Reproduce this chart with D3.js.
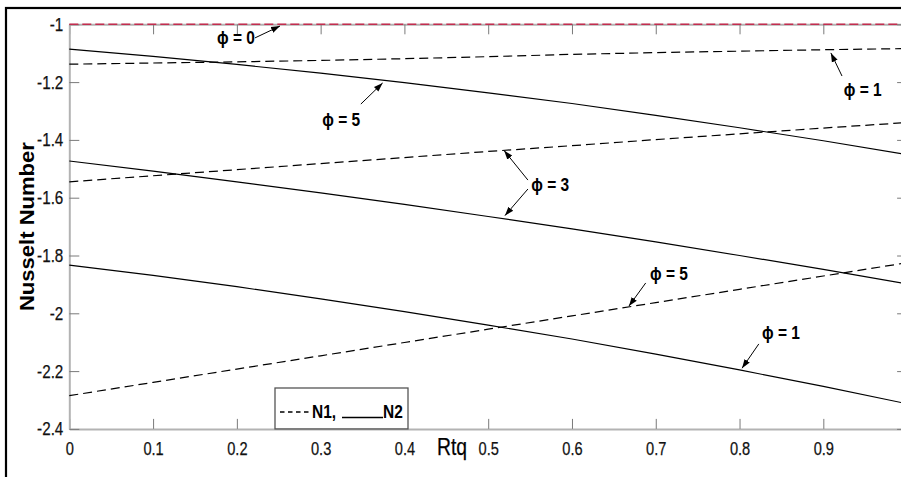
<!DOCTYPE html>
<html>
<head>
<meta charset="utf-8">
<script src="https://cdn.jsdelivr.net/npm/d3@7"></script>
<style>
  html, body { margin: 0; padding: 0; background: #fff; }
  svg { display: block; }
  svg text { font-family: "Liberation Sans", Arial, sans-serif; }
</style>
</head>
<body>
<svg id="chart" width="901" height="477"></svg>
<script>
// Rtq sample points
const rtq = [0, 0.1, 0.2, 0.3, 0.4, 0.5, 0.6, 0.7, 0.8, 0.9, 1.0];

// Nusselt number, N1 (dashed) and N2 (solid), for each phi
const n1Phi0 = [-1, -1, -1, -1, -1, -1, -1, -1, -1, -1, -1];
const n1Phi1 = [-1.138, -1.134, -1.130, -1.125, -1.119, -1.112, -1.104, -1.098, -1.093, -1.088, -1.084];
const n1Phi3 = [-1.545, -1.524, -1.503, -1.482, -1.461, -1.440, -1.420, -1.399, -1.379, -1.359, -1.340];
const n1Phi5 = [-2.285, -2.239, -2.193, -2.147, -2.101, -2.055, -2.009, -1.963, -1.917, -1.871, -1.825];
const n2Phi1 = [-1.833, -1.869, -1.908, -1.950, -1.994, -2.041, -2.089, -2.141, -2.196, -2.253, -2.313];
const n2Phi3 = [-1.473, -1.508, -1.545, -1.583, -1.623, -1.665, -1.708, -1.753, -1.800, -1.848, -1.898];
const n2Phi5 = [-1.086, -1.111, -1.139, -1.169, -1.202, -1.237, -1.274, -1.315, -1.358, -1.403, -1.451];

// Axis ticks
const xTicks = [0, 0.1, 0.2, 0.3, 0.4, 0.5, 0.6, 0.7, 0.8, 0.9];
const yTicks = [-1, -1.2, -1.4, -1.6, -1.8, -2, -2.2, -2.4];

// Annotation labels: text position, arrow tail(s) and arrow tip(s), in data units
const labelText = ["ϕ = 0", "ϕ = 1", "ϕ = 5", "ϕ = 3", "ϕ = 5", "ϕ = 1"];
const labelAt   = [[0.199, -1.047], [0.947, -1.227], [0.3245, -1.331], [0.574, -1.556], [0.7157, -1.861], [0.8495, -2.068]];
const arrowFrom = [[[0.2217, -1.047]], [[0.9223, -1.179]], [[0.348, -1.276]], [[0.5474, -1.539], [0.5474, -1.570]], [[0.688, -1.895]], [[0.823, -2.106]]];
const arrowTo   = [[[0.2515, -1.006]], [[0.909, -1.099]], [[0.374, -1.203]], [[0.519, -1.437], [0.520, -1.662]], [[0.668, -1.975]], [[0.803, -2.190]]];

const svg = d3.select("#chart");
const W = 901, H = 477;

// condensed look: squeeze each text horizontally to a fraction of its natural width
function condense(sel, factor) {
  sel.each(function () {
    const L = this.getComputedTextLength();
    this.setAttribute("textLength", (L * factor).toFixed(2));
    this.setAttribute("lengthAdjust", "spacingAndGlyphs");
  });
}

svg.append("rect").attr("width", W).attr("height", H).attr("fill", "#fff");

const x = d3.scaleLinear().domain([0, 1]).range([69.3, 907.1]);
const y = d3.scaleLinear().domain([-2.4, -1]).range([428.9, 24.3]);

// arrowhead marker
svg.append("defs").append("marker")
  .attr("id", "head").attr("viewBox", "0 0 10 10")
  .attr("refX", 10).attr("refY", 5)
  .attr("markerWidth", 9).attr("markerHeight", 9)
  .attr("markerUnits", "userSpaceOnUse")
  .attr("orient", "auto")
  .append("path").attr("d", "M0,1.5 L10,5 L0,8.5 Z").attr("fill", "#000");

// outer frame
svg.append("rect").attr("x", 6).attr("y", 8).attr("width", 1000).attr("height", 1000)
  .attr("fill", "none").attr("stroke", "#000").attr("stroke-width", 2.2);

// axes box (grey, inward ticks)
const axisG = svg.append("g");
const tickLen = 10;
const axisColor = "#b3b3b3", tickColor = "#7a7a7a";

function styleAxis(g) {
  g.attr("font-family", null).attr("font-size", null);
  g.select(".domain").attr("stroke", axisColor).attr("stroke-width", 2);
  g.selectAll(".tick line").attr("stroke", tickColor).attr("stroke-width", 1);
}

const xb = axisG.append("g").attr("transform", `translate(0,${y(-2.4)})`)
  .call(d3.axisBottom(x).tickValues(xTicks).tickSizeInner(-tickLen).tickSizeOuter(0)
    .tickPadding(12.5).tickFormat(d => String(+d.toFixed(1))));
styleAxis(xb);
xb.selectAll(".tick text").attr("font-size", 19).attr("fill", "#111")
  .attr("stroke", "#111").attr("stroke-width", 0.25).attr("dy", "0.72em");
condense(xb.selectAll(".tick text"), 0.77);

const xt = axisG.append("g").attr("transform", `translate(0,${y(-1)})`)
  .call(d3.axisTop(x).tickValues(xTicks).tickSizeInner(-tickLen).tickSizeOuter(0).tickFormat(""));
styleAxis(xt);

const yl = axisG.append("g").attr("transform", `translate(${x(0)},0)`)
  .call(d3.axisLeft(y).tickValues(yTicks).tickSizeInner(-tickLen).tickSizeOuter(0)
    .tickPadding(6).tickFormat(d => String(+d.toFixed(1))));
styleAxis(yl);
yl.selectAll(".tick text").attr("font-size", 19).attr("fill", "#111")
  .attr("stroke", "#111").attr("stroke-width", 0.25);
condense(yl.selectAll(".tick text"), 0.8);

const yr = axisG.append("g").attr("transform", `translate(${x(1)},0)`)
  .call(d3.axisRight(y).tickValues(yTicks).tickSizeInner(-tickLen).tickSizeOuter(0).tickFormat(""));
styleAxis(yr);

// series
const line = d3.line().x((d, i) => x(rtq[i])).y(d => y(d));
const series = [
  { v: n2Phi5, dash: null },
  { v: n2Phi3, dash: null },
  { v: n2Phi1, dash: null },
  { v: n1Phi1, dash: "9,5" },
  { v: n1Phi3, dash: "9,5" },
  { v: n1Phi5, dash: "9,5" }
];
svg.append("g").selectAll("path").data(series).join("path")
  .attr("d", d => line(d.v))
  .attr("fill", "none").attr("stroke", "#000").attr("stroke-width", 1.2)
  .attr("stroke-dasharray", d => d.dash);

// phi = 0 line lies on the upper limit
svg.append("path").attr("d", line(n1Phi0))
  .attr("fill", "none").attr("stroke", "#c42d4f").attr("stroke-width", 1.6)
  .attr("stroke-dasharray", "9,4");

// annotations
const ann = svg.append("g");
labelText.forEach((t, i) => {
  const txt = ann.append("text")
    .attr("x", x(labelAt[i][0])).attr("y", y(labelAt[i][1]))
    .attr("text-anchor", "middle").attr("dy", "0.36em")
    .attr("font-size", 18).attr("font-weight", "bold").text(t);
  condense(txt, 0.86);
  arrowFrom[i].forEach((f, k) => {
    const tgt = arrowTo[i][k];
    ann.append("line")
      .attr("x1", x(f[0])).attr("y1", y(f[1]))
      .attr("x2", x(tgt[0])).attr("y2", y(tgt[1]))
      .attr("stroke", "#000").attr("stroke-width", 1)
      .attr("marker-end", "url(#head)");
  });
});

// legend
const lg = svg.append("g");
lg.append("rect").attr("x", 275).attr("y", 388).attr("width", 133).attr("height", y(-2.4) - 388)
  .attr("fill", "#fff").attr("stroke", "#555").attr("stroke-width", 1.3);
lg.append("line").attr("x1", 280).attr("x2", 310).attr("y1", 412).attr("y2", 412)
  .attr("stroke", "#000").attr("stroke-width", 1.6).attr("stroke-dasharray", "4.5,3.5");
const l1 = lg.append("text").attr("x", 312).attr("y", 412).attr("dy", "0.36em")
  .attr("font-size", 18).attr("font-weight", "bold").text("N1,");
condense(l1, 0.86);
lg.append("line").attr("x1", 342).attr("x2", 383).attr("y1", 417.5).attr("y2", 417.5)
  .attr("stroke", "#000").attr("stroke-width", 1.5);
const l2 = lg.append("text").attr("x", 383).attr("y", 412).attr("dy", "0.36em")
  .attr("font-size", 18).attr("font-weight", "bold").text("N2");
condense(l2, 0.86);

// axis titles
const xtitle = svg.append("text").attr("x", 452).attr("y", 455)
  .attr("text-anchor", "middle").attr("font-size", 23)
  .attr("stroke", "#111").attr("stroke-width", 0.25).text("Rtq");
condense(xtitle, 0.84);
svg.append("text")
  .attr("transform", `translate(34,${(y(-1) + y(-2.4)) / 2}) rotate(-90)`)
  .attr("text-anchor", "middle")
  .attr("font-size", 21).attr("font-weight", "bold")
  .attr("textLength", 169).attr("lengthAdjust", "spacingAndGlyphs")
  .text("Nusselt Number");
</script>
</body>
</html>
